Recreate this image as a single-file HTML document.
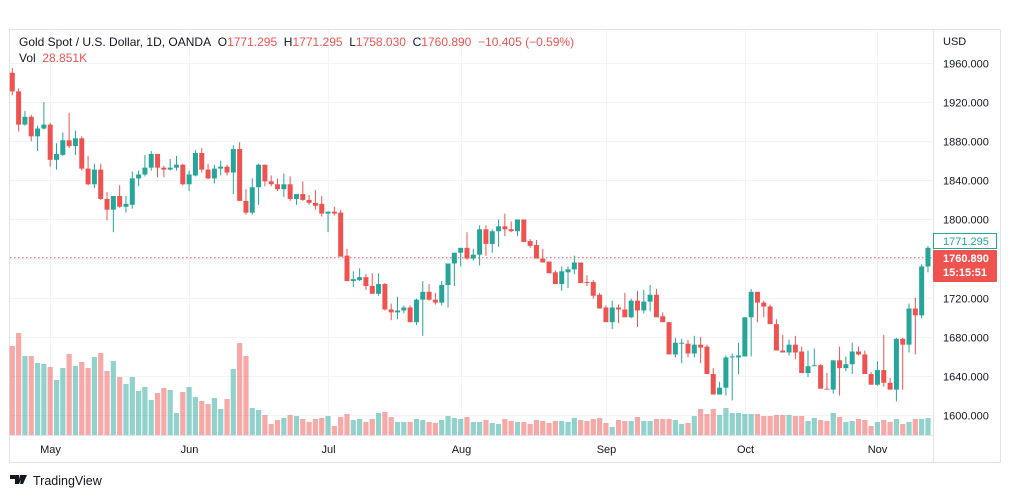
<!DOCTYPE html>
<html><head><meta charset="utf-8"><style>
body{margin:0;background:#fff;font-family:"Liberation Sans",sans-serif;}
svg{display:block}
text{font-family:"Liberation Sans",sans-serif;}
</style></head><body>
<svg id="chart" width="1012" height="498" viewBox="0 0 1012 498">
<rect x="9.5" y="29.5" width="991" height="433" fill="#fff" stroke="#e0e3eb"/>
<g id="grid"></g>
<g id="vols"></g>
<g id="candles"></g>
<line x1="10" y1="435.5" x2="933" y2="435.5" stroke="#e0e3eb"/>
<line x1="933.5" y1="30" x2="933.5" y2="462" stroke="#e0e3eb"/>
<g id="yaxis"></g>
<g id="xaxis"></g>
<text x="943" y="45" font-size="11" fill="#131722">USD</text>
<text x="19" y="46" font-size="12" fill="#131722">Gold Spot / U.S. Dollar, 1D, OANDA&#160;&#160;O<tspan fill="#ef5350">1771.295</tspan>&#160;&#160;H<tspan fill="#ef5350">1771.295</tspan>&#160;&#160;L<tspan fill="#ef5350">1758.030</tspan>&#160;&#160;C<tspan fill="#ef5350">1760.890</tspan>&#160;&#160;<tspan fill="#ef5350">−10.405 (−0.59%)</tspan></text>
<text x="19" y="62" font-size="12" fill="#131722">Vol&#160;&#160;<tspan fill="#ef5350">28.851K</tspan></text>
<g>
<path d="M10 475h9v9h-4v-5h-5z M20 475h3l-4 9h-1z M22 475h5l-4 9h-3z" fill="#131722"/>
<text x="33" y="485" font-size="12.5" fill="#131722">TradingView</text>
</g>
</svg>
<script>
const opens=[1950,1931,1897,1905,1885,1893,1897,1861,1866,1881,1875,1883,1852,1836,1851,1821,1810,1824,1813,1815,1842,1846,1853,1867,1853,1851,1853,1856,1836,1845,1868,1851,1842,1852,1854,1848,1872,1819,1807,1833,1856,1839,1836,1831,1836,1821,1826,1820,1817,1816,1806,1808,1807,1763,1737,1738,1741,1732,1724,1734,1708,1705,1707,1710,1695,1718,1726,1718,1715,1733,1755,1766,1771,1760,1764,1790,1775,1788,1793,1790,1788,1800,1778,1774,1760,1757,1746,1734,1746,1749,1756,1736,1736,1723,1710,1695,1710,1708,1700,1717,1707,1716,1723,1701,1695,1662,1673,1673,1663,1672,1670,1642,1621,1628,1659,1659,1660,1700,1726,1715,1711,1693,1666,1664,1672,1665,1643,1650,1651,1627,1626,1656,1648,1652,1665,1662,1642,1631,1646,1633,1626,1678,1672,1709,1702,1752];
const highs=[1955,1934,1911,1907,1896,1920,1899,1878,1889,1909,1891,1885,1865,1857,1857,1828,1824,1835,1824,1849,1850,1866,1870,1867,1855,1862,1865,1857,1850,1871,1873,1857,1856,1860,1856,1876,1879,1831,1842,1857,1856,1845,1842,1847,1844,1826,1839,1825,1830,1824,1808,1813,1810,1770,1747,1750,1744,1745,1745,1735,1714,1721,1712,1712,1719,1737,1734,1725,1737,1755,1766,1771,1787,1770,1794,1794,1790,1800,1806,1798,1800,1800,1780,1779,1770,1757,1748,1752,1752,1763,1756,1743,1738,1725,1712,1717,1713,1725,1719,1727,1728,1733,1729,1705,1695,1679,1678,1677,1681,1680,1672,1648,1634,1661,1663,1674,1700,1729,1726,1717,1713,1698,1682,1677,1681,1670,1666,1668,1652,1643,1656,1670,1660,1674,1670,1666,1644,1655,1682,1638,1679,1679,1714,1720,1754,1773];
const lows=[1927,1890,1896,1880,1870,1892,1854,1851,1865,1873,1866,1850,1835,1832,1820,1799,1787,1812,1807,1811,1834,1844,1850,1843,1843,1850,1850,1835,1829,1844,1848,1841,1837,1845,1845,1826,1819,1805,1805,1815,1834,1834,1829,1823,1819,1815,1819,1815,1810,1803,1787,1804,1805,1762,1731,1737,1728,1731,1722,1707,1697,1698,1704,1707,1692,1681,1717,1713,1712,1710,1732,1752,1759,1758,1753,1763,1766,1772,1783,1787,1783,1784,1771,1770,1759,1754,1744,1727,1730,1744,1747,1732,1719,1720,1708,1688,1694,1707,1699,1690,1704,1706,1713,1696,1693,1659,1653,1659,1659,1653,1661,1639,1621,1620,1615,1642,1660,1660,1695,1700,1707,1690,1664,1661,1657,1645,1639,1650,1646,1626,1622,1620,1645,1642,1661,1655,1638,1630,1629,1632,1614,1626,1664,1662,1699,1746];
const closes=[1931,1897,1905,1885,1893,1897,1861,1867,1881,1875,1883,1852,1836,1851,1821,1810,1824,1813,1816,1842,1846,1853,1867,1853,1851,1853,1856,1836,1846,1868,1851,1842,1852,1854,1848,1872,1819,1807,1833,1856,1839,1836,1831,1836,1821,1826,1820,1817,1814,1806,1808,1806,1762,1737,1739,1741,1732,1724,1734,1708,1705,1707,1710,1695,1718,1726,1718,1715,1733,1755,1766,1771,1760,1764,1790,1775,1788,1793,1790,1788,1800,1777,1773,1760,1756,1745,1734,1747,1749,1756,1735,1735,1722,1709,1695,1710,1708,1700,1717,1707,1716,1723,1700,1695,1662,1674,1674,1663,1672,1669,1642,1621,1628,1659,1660,1661,1700,1726,1715,1711,1693,1666,1664,1672,1664,1643,1650,1651,1627,1626,1656,1648,1652,1665,1662,1642,1631,1646,1633,1626,1678,1672,1709,1702,1752,1771];
const volumes=[89,102,79,79,72,71,68,55,67,81,69,73,67,78,82,64,74,58,51,58,44,48,35,42,47,45,22,43,48,38,34,31,37,26,36,66,92,79,27,25,20,11,15,17,20,19,16,13,16,17,19,9,18,21,15,16,13,16,22,23,18,13,13,13,16,15,13,12,15,19,17,16,18,13,13,15,12,11,16,14,13,13,11,15,14,12,14,14,13,17,15,14,16,17,12,8,15,14,14,18,14,14,16,16,16,15,11,12,19,26,21,26,20,27,22,22,21,21,21,19,19,20,20,20,19,19,14,17,15,14,22,18,13,14,16,15,9,13,15,13,16,11,13,16,16,17];
const priceTicks=[1600,1640,1680,1720,1760,1800,1840,1880,1920,1960];
const monthLabels=["May","Jun","Jul","Aug","Sep","Oct","Nov"];
const monthIdx=[6,28,50,71,94,116,137];
const lastClose=1760.89, prevMark=1771.295;

const NS="http://www.w3.org/2000/svg";
const xS=i=>12.3+i*6.315;
const yS=p=>63+(1960-p)*0.978;
const vS=v=>v*1.0;
function mk(tag,attrs,parent){const e=document.createElementNS(NS,tag);for(const k in attrs)e.setAttribute(k,attrs[k]);parent.appendChild(e);return e;}
const G=document.getElementById('grid'),V=document.getElementById('vols'),C=document.getElementById('candles'),Y=document.getElementById('yaxis'),X=document.getElementById('xaxis');
priceTicks.forEach(p=>{const y=Math.round(yS(p))+0.5;
 const l=mk('line',{x1:10,x2:933,y1:y,y2:y,stroke:'#f0f3fa'},G);
 
 
 const t=mk('text',{x:943,y:y+4,'font-size':11,fill:'#131722'},Y);t.textContent=p.toFixed(3);
 
 
});
monthIdx.forEach((m,k)=>{const x=Math.round(xS(m))+0.5;
 const l=mk('line',{x1:x,x2:x,y1:30,y2:435,stroke:'#f0f3fa'},G);
 
 
 const t=mk('text',{x:x,y:453,'font-size':11,fill:'#131722','text-anchor':'middle'},X);t.textContent=monthLabels[k];
 
 
});
const ly=yS(lastClose);
const dl=mk('line',{x1:10,x2:933,y1:ly,y2:ly,stroke:'#ef5350','stroke-dasharray':'1.5,2.5'},G);


opens.forEach((o,i)=>{const c=closes[i],up=c>=o,x=xS(i);
 const vb=mk('rect',{x:x-2.6,width:5.2,y:435-vS(volumes[i]),height:vS(volumes[i]),fill:up?'rgba(38,166,154,0.5)':'rgba(239,83,80,0.5)'},V);
 
 
 const col=up?'#26a69a':'#ef5350';
 const g=mk('g',{},C);
 
 
 mk('line',{x1:x,x2:x,y1:yS(highs[i]),y2:yS(lows[i]),stroke:col,'stroke-width':1},g);
 const t=yS(Math.max(o,c)),b=yS(Math.min(o,c));
 mk('rect',{x:x-2.5,width:5,y:t,height:Math.max(1,b-t),fill:col},g);
});
const pbY=233;
const pb=mk('rect',{x:933.5,y:pbY+0.5,width:63,height:15,fill:'#fff',stroke:'#26a69a'},Y);


const pt=mk('text',{x:943,y:pbY+12,'font-size':11,fill:'#26a69a'},Y);pt.textContent=prevMark.toFixed(3);
const rbY=250;
const rb=mk('rect',{x:933,y:rbY,width:64,height:32,fill:'#ef5350',rx:1},Y);


const t1=mk('text',{x:943,y:rbY+12,'font-size':11,fill:'#fff','font-weight':'bold'},Y);t1.textContent=lastClose.toFixed(3);
const t2=mk('text',{x:943,y:rbY+26,'font-size':11,fill:'#fff','font-weight':'bold'},Y);t2.textContent="15:15:51";
</script>
</body></html>
